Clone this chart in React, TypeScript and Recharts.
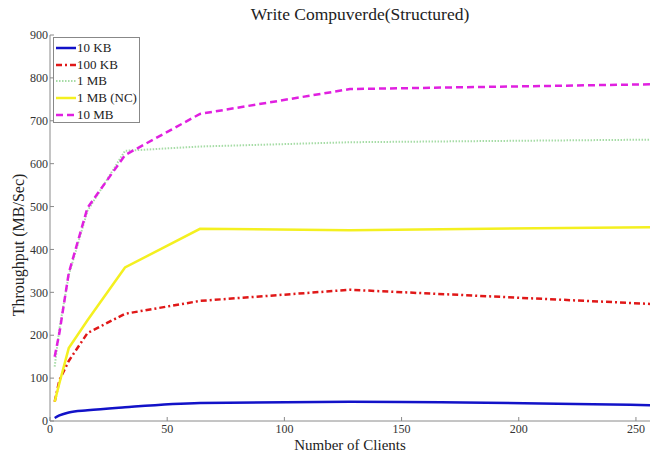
import React from 'react';
import { LineChart, Line, XAxis, YAxis } from 'recharts';

const clients = [2, 4, 8, 16, 32, 64, 128, 256];
const kb10 = [7, 13, 20, 25, 32, 42, 45, 37];
const kb100 = [45, 95, 140, 205, 250, 280, 306, 273];
const mb1 = [127, 215, 340, 490, 630, 640, 650, 656];
const mb1nc = [45, 88, 170, 235, 358, 448, 445, 452];
const mb10 = [150, 205, 345, 497, 620, 716, 774, 785];

const xTicks = [0, 50, 100, 150, 200, 250];
const yTicks = [0, 100, 200, 300, 400, 500, 600, 700, 800, 900];

const series = [
  { key: 'kb10', name: '10 KB', color: '#1212c8', dash: undefined, width: 2.5, type: 'monotone' },
  { key: 'kb100', name: '100 KB', color: '#e01818', dash: '6 3 2 3', width: 2.5, type: 'linear' },
  { key: 'mb1', name: '1 MB', color: '#a6dca6', dash: '1.5 1.5', width: 2, type: 'linear' },
  { key: 'mb1nc', name: '1 MB (NC)', color: '#f4f020', dash: undefined, width: 2.5, type: 'linear' },
  { key: 'mb10', name: '10 MB', color: '#e020e0', dash: '7 4', width: 2.5, type: 'linear' },
];

const data = clients.map((c, i) => ({
  clients: c,
  kb10: kb10[i],
  kb100: kb100[i],
  mb1: mb1[i],
  mb1nc: mb1nc[i],
  mb10: mb10[i],
}));

const font = '"Liberation Serif", "DejaVu Serif", serif';
const axisColor = '#8a8a8a';
const tickStyle = { fontSize: 12, fill: '#333', fontFamily: font };

const LegendBox = () => (
  <div
    style={{
      position: 'absolute',
      left: 53,
      top: 37,
      width: 87,
      height: 86,
      border: '1px solid #888',
      background: '#fff',
      fontFamily: font,
      fontSize: 13,
      color: '#222',
      boxSizing: 'border-box',
      paddingTop: 2,
    }}
  >
    {series.map((s) => (
      <div key={s.key} style={{ display: 'flex', alignItems: 'center', height: 16.6 }}>
        <svg width={22} height={10} style={{ marginLeft: 1 }}>
          <line x1={1} y1={5} x2={21} y2={5} stroke={s.color} strokeWidth={s.width} strokeDasharray={s.dash} />
        </svg>
        <span style={{ whiteSpace: 'nowrap' }}>{s.name}</span>
      </div>
    ))}
  </div>
);

export default function App() {
  return (
    <div style={{ position: 'absolute', left: 0, top: 0, width: 651, height: 457, background: '#fff' }}>
      <div
        style={{
          position: 'absolute',
          left: 60,
          width: 600,
          top: 4,
          textAlign: 'center',
          fontFamily: font,
          fontSize: 17.5,
          color: '#222',
        }}
      >
        Write Compuverde(Structured)
      </div>
      <LineChart width={651} height={457} data={data} margin={{ top: 35, right: 1, bottom: 0, left: 0 }}>
        <XAxis
          dataKey="clients"
          type="number"
          domain={[0, 256]}
          ticks={xTicks}
          allowDataOverflow
          stroke={axisColor}
          tickSize={-4}
          tickMargin={7}
          height={36}
          tick={tickStyle}
          label={{ value: 'Number of Clients', position: 'insideBottom', offset: 7, style: { fontSize: 15, fill: '#222', fontFamily: font } }}
        />
        <XAxis
          xAxisId="top"
          orientation="top"
          dataKey="clients"
          type="number"
          domain={[0, 256]}
          ticks={xTicks}
          allowDataOverflow
          stroke={axisColor}
          tickSize={-4}
          tick={false}
          height={0}
        />
        <YAxis
          type="number"
          domain={[0, 900]}
          ticks={yTicks}
          stroke={axisColor}
          tickSize={-4}
          tickMargin={6}
          width={50}
          tick={tickStyle}
          label={{ value: 'Throughput (MB/Sec)', angle: -90, position: 'insideLeft', offset: 18, dy: 17, style: { fontSize: 16, fill: '#222', fontFamily: font, textAnchor: 'middle' } }}
        />
        <YAxis
          yAxisId="right"
          orientation="right"
          domain={[0, 900]}
          ticks={yTicks}
          stroke={axisColor}
          tick={false}
          tickSize={-4}
          width={0}
        />
        {series.map((s) => (
          <Line
            key={s.key}
            type={s.type as any}
            dataKey={s.key}
            name={s.name}
            stroke={s.color}
            strokeWidth={s.width}
            strokeDasharray={s.dash}
            dot={false}
            isAnimationActive={false}
          />
        ))}
      </LineChart>
      <LegendBox />
    </div>
  );
}
